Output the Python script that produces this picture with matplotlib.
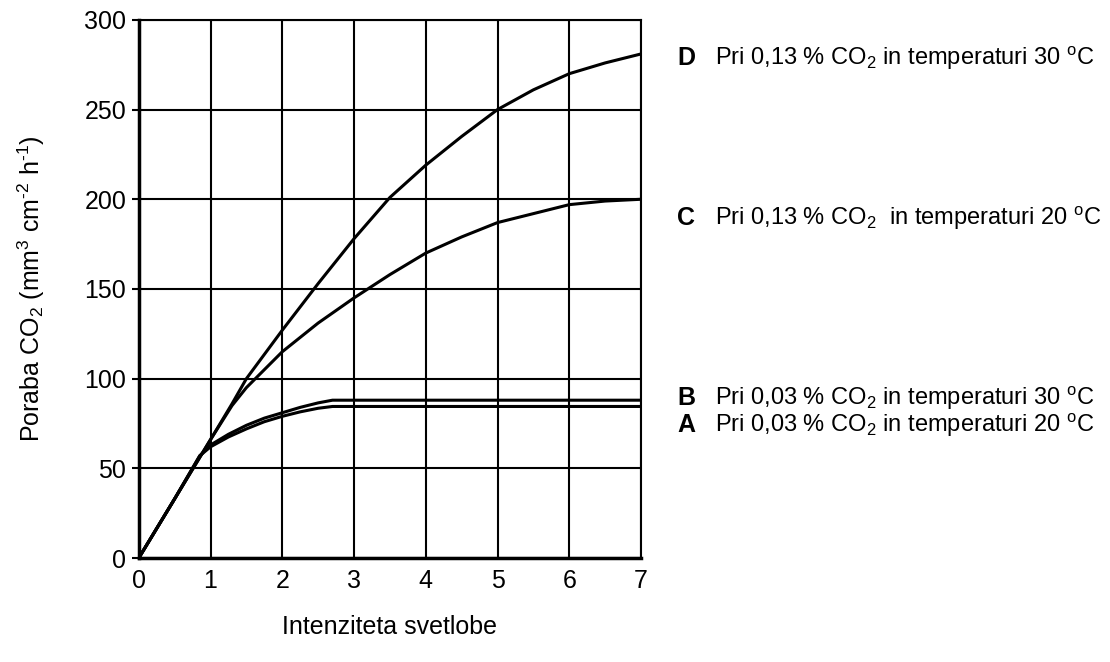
#!/usr/bin/env python3

import matplotlib
matplotlib.use("Agg")
import matplotlib.pyplot as plt

x_d = [0, 0.5, 1.0, 1.3, 1.5, 2.0, 2.5, 3.0, 3.5, 4.0, 4.5, 5.0, 5.5, 6.0, 6.5, 7.0]
y_d = [0, 33, 66, 86, 100, 127, 153, 178, 201, 219, 235, 250, 261, 270, 276, 281]

x_c = [0, 0.5, 1.0, 1.3, 1.5, 2.0, 2.5, 3.0, 3.5, 4.0, 4.5, 5.0, 5.5, 6.0, 6.5, 7.0]
y_c = [0, 33, 66, 85, 95, 115, 131, 145, 158, 170, 179, 187, 192, 197, 199, 200]

x_b = [0, 0.5, 0.85, 1.0, 1.25, 1.5, 1.75, 2.0, 2.25, 2.5, 2.7, 7.0]
y_b = [0, 33, 57, 63, 69, 74, 78, 81, 84, 86.5, 88, 88]

x_a = [0, 0.5, 0.85, 1.0, 1.25, 1.5, 1.75, 2.0, 2.25, 2.5, 2.7, 7.0]
y_a = [0, 33, 57, 62, 67.5, 72, 76, 79, 81.5, 83.5, 84.5, 84.5]

letters = ["D", "C", "B", "A"]
texts = [
    "Pri 0,13 % CO$_2$ in temperaturi 30 $^{\\mathrm{o}}$C",
    "Pri 0,13 % CO$_2$  in temperaturi 20 $^{\\mathrm{o}}$C",
    "Pri 0,03 % CO$_2$ in temperaturi 30 $^{\\mathrm{o}}$C",
    "Pri 0,03 % CO$_2$ in temperaturi 20 $^{\\mathrm{o}}$C",
]
text_y = [0.902, 0.660, 0.388, 0.348]  # baselines, figure fraction

plt.rcParams["font.family"] = ["Liberation Sans", "DejaVu Sans"]
plt.rcParams["mathtext.fontset"] = "custom"
plt.rcParams["mathtext.rm"] = "Liberation Sans"
plt.rcParams["mathtext.it"] = "Liberation Sans"

fig = plt.figure(figsize=(11.1, 6.62), dpi=100)
ax = fig.add_axes([0.125, 0.157, 0.4525, 0.813])

for xs, ys in [(x_d, y_d), (x_c, y_c), (x_b, y_b), (x_a, y_a)]:
    ax.plot(xs, ys, color="black", lw=2.2, solid_joinstyle="round")

ax.set_xlim(0, 7)
ax.set_ylim(0, 300)
ax.set_xticks(range(0, 8))
ax.set_yticks(range(0, 301, 50))
ax.grid(True, color="black", lw=1.5)
ax.set_axisbelow(True)
for s in ["top", "right"]:
    ax.spines[s].set_linewidth(1.5)
for s in ["left", "bottom"]:
    ax.spines[s].set_linewidth(2.5)
ax.tick_params(labelsize=18, width=1.5, length=5, color="black", pad=4)
ax.tick_params(axis="x", length=0, pad=8)

ax.set_ylabel("Poraba CO$_2$ (mm$^3$ cm$^{\\text{-2}}$ h$^{\\text{-1}}$)", fontsize=18, labelpad=27)
ax.set_xlabel("Intenziteta svetlobe", fontsize=18, labelpad=16)

# labels to the right of the plot
for letter, txt, ty in zip(letters, texts, text_y):
    fig.text(0.610, ty, letter, fontsize=18, fontweight="bold", va="baseline")
    fig.text(0.644, ty, txt, fontsize=17, va="baseline")

fig.savefig("out.png", dpi=100)
